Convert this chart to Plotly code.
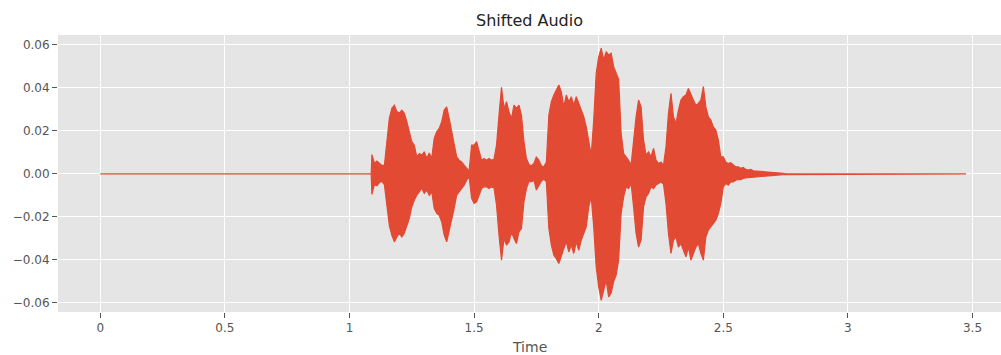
import numpy as np
import plotly.graph_objects as go

# Waveform envelope of the shifted clip (amplitude per 10 ms frame, in thousandths)
ENV_START = 1.09      # first frame with sound (s)
ENV_STEP = 0.01       # frame hop (s)
CLIP_END = 3.474      # clip length (s)

upper_mil = [
    9,
    5, 6, 5, 4, 4, 15, 26, 30.6, 32, 29,
    28.3, 29.7, 28.2, 24.3, 19.6, 15, 13.4, 8, 9.5, 8.8,
    10.3, 7.3, 9.7, 7.3, 16.7, 19.6, 21.2, 24.3, 29.7, 31.2,
    25.8, 19.6, 15, 8, 6.4, 5.6, 4.1, 2.6, 1.3, 13.4,
    13.4, 15, 10.3, 6.4, 7.2, 6.4, 7.2, 6.4, 6.9, 13.4,
    27.4, 40.3, 30.5, 33.6, 28.9, 25.8, 32, 30.5, 32, 27.4,
    15, 7.2, 4.4, 3.8, 4.9, 8, 6.4, 3.8, 3.3, 5.6,
    27.4, 33.6, 36.7, 39, 41.4, 38.2, 31.2, 36.7, 33.6, 35.9,
    32, 35.9, 32.8, 29.7, 26.6, 21.9, 15.7, 8.8, 25, 46.8,
    54.5, 58.5, 53, 56.9, 55.3, 56.1, 49.9, 46.8, 44, 18.9,
    9.5, 8, 6.4, 4.1, 15.7, 26.6, 34.4, 31.2, 15.7, 8.8,
    10.3, 8, 11.9, 6.4, 4.9, 5.6, 4.1, 12.6, 28.2, 37.5,
    26.6, 23.5, 29.7, 34.4, 35.9, 36.7, 39.8, 36.7, 34.4, 32,
    32.8, 34.4, 40.6, 31.2, 26.6, 25.1, 21.9, 20.4, 15.7, 8,
    8, 5.6, 4.9, 5.2, 4.1, 3.3, 3.3, 2.6, 3, 2.1,
    1.8, 2.1, 1.5, 1.4, 1.6, 1.2, 1.1, 1.0, 1.0, 0.8,
    0.9, 0.7, 0.5, 0.4, 0.3, 0.1,
]

lower_mil = [
    -9.5,
    -5, -5.5, -4, -3.5, -5, -14.5, -24, -28.5, -31.6, -29.3,
    -27.6, -29.3, -27.6, -24.6, -20.6, -15.3, -12.2, -9.9, -8.3, -6.6,
    -9, -7.5, -9.9, -8.3, -16, -18.3, -19.2, -22.3, -28.5, -31.6,
    -25.4, -21.5, -16, -9.9, -8.3, -6.8, -5.2, -2.9, -1.3, -11.4,
    -13.7, -13, -9.9, -6.8, -6, -6, -6.8, -6, -6.5, -14.5,
    -28.5, -40.1, -30, -33.1, -31.6, -27, -30, -32.4, -27, -25.4,
    -13, -6.8, -3.4, -3.7, -2.9, -7.5, -5.2, -3.4, -2.4, -3.7,
    -25.4, -33.1, -37.8, -39.4, -41.7, -37.8, -34.7, -31.6, -36.3, -33.1,
    -37, -31.6, -35.5, -30.8, -27.7, -24.6, -15.3, -10.7, -24.6, -43.3,
    -52.6, -58.8, -54.1, -49.5, -57.2, -55.4, -50, -47, -40, -18.4,
    -10.7, -6, -6.8, -4.4, -15.3, -27.7, -34, -30.8, -15.3, -10.7,
    -9.1, -6, -6.8, -5.2, -4.4, -3.7, -4.8, -13.7, -27.7, -37,
    -30.8, -29.3, -34, -32.4, -35.5, -38.6, -34, -40.1, -37, -34,
    -32.4, -37, -40.1, -29.3, -26.2, -24.6, -23, -21.5, -18.4, -13.7,
    -6, -4.4, -5.2, -3.7, -3.7, -2.9, -2.6, -2.6, -2.1, -1.8,
    -1.6, -1.6, -1.3, -1.2, -1.1, -1.0, -1.0, -0.9, -0.8, -0.8,
    -0.7, -0.6, -0.5, -0.4, -0.3, -0.1,
]

x_tick_vals = [0, 0.5, 1, 1.5, 2, 2.5, 3, 3.5]
x_tick_text = ["0", "0.5", "1", "1.5", "2", "2.5", "3", "3.5"]
y_tick_vals = [0.06, 0.04, 0.02, 0.0, -0.02, -0.04, -0.06]
y_tick_text = ["0.06", "0.04", "0.02", "0.00", "\u22120.02", "\u22120.04", "\u22120.06"]

assert len(upper_mil) == len(lower_mil)

frame_t = ENV_START + ENV_STEP * np.arange(len(upper_mil))
upper = np.array(upper_mil) / 1000.0
lower = np.array(lower_mil) / 1000.0

# Silent lead-in and tail (flat at zero) around the active part
t_all = np.concatenate([[0.0, ENV_START - 0.003], frame_t, [frame_t[-1] + 0.01, CLIP_END]])
up_all = np.concatenate([[0.0, 0.0], upper, [0.0, 0.0]])
lo_all = np.concatenate([[0.0, 0.0], lower, [0.0, 0.0]])

# Closed polygon: upper envelope left->right, lower envelope right->left
poly_x = np.concatenate([t_all, t_all[::-1]])
poly_y = np.concatenate([up_all, lo_all[::-1]])

RED = "#E24A33"
GRID_BG = "#E5E5E5"
TICK_GREY = "#555555"
FONT = "DejaVu Sans"

fig = go.Figure()
fig.add_trace(go.Scatter(
    x=poly_x, y=poly_y,
    mode="lines",
    fill="toself",
    fillcolor=RED,
    line=dict(color=RED, width=1.2),
    hoverinfo="skip",
    showlegend=False,
))

fig.update_layout(
    width=1001, height=355,
    margin=dict(l=58, r=0, t=35, b=43),
    paper_bgcolor="white",
    plot_bgcolor=GRID_BG,
    font=dict(family=FONT, size=12, color=TICK_GREY),
    title=dict(
        text="Shifted Audio",
        x=0.5, xref="paper", xanchor="center",
        y=1 - 20 / 355, yref="container", yanchor="middle",
        font=dict(family=FONT, size=16, color="#222222"),
    ),
    showlegend=False,
)

fig.update_xaxes(
    range=[-0.1697, 3.6143],
    tickmode="array", tickvals=x_tick_vals, ticktext=x_tick_text,
    ticks="outside", ticklen=5, tickwidth=1, tickcolor=TICK_GREY,
    tickfont=dict(family=FONT, size=12, color=TICK_GREY),
    showgrid=True, gridcolor="white", gridwidth=1,
    zeroline=False, showline=False,
)
fig.update_yaxes(
    range=[-0.06423, 0.06465],
    tickmode="array", tickvals=y_tick_vals, ticktext=y_tick_text,
    ticks="outside", ticklen=5, tickwidth=1, tickcolor=TICK_GREY,
    tickfont=dict(family=FONT, size=12, color=TICK_GREY),
    showgrid=True, gridcolor="white", gridwidth=1,
    zeroline=False, showline=False,
)

fig.add_annotation(
    text="Time", x=0.5, xref="paper", y=0, yref="paper",
    xanchor="center", yanchor="middle", yshift=-35,
    showarrow=False,
    font=dict(family=FONT, size=14, color=TICK_GREY),
)

fig.write_html("out.html")
